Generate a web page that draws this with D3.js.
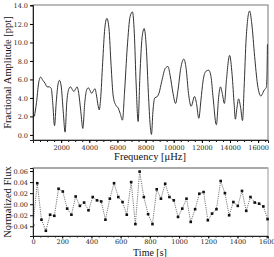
<!DOCTYPE html>
<html>
<head>
<meta charset="utf-8">
<script src="https://cdn.jsdelivr.net/npm/d3@7"></script>
<style>
  body { margin: 0; background: #fff; }
  .tick text { font-family: "DejaVu Serif", serif; font-size: 6.5px; fill: #222; }
  .title { font-family: "Liberation Serif", "Times New Roman", serif; font-size: 10.5px; fill: #111; }
</style>
</head>
<body>
<div id="chart"></div>
<script>
// amplitude spectrum
const specFreq = [100, 250, 400, 540, 700, 850, 1000, 1150, 1300, 1400, 1530, 1650, 1780, 1880, 2000, 2150, 2280, 2400, 2530, 2660,
  2800, 2900, 3020, 3130, 3250, 3400, 3540, 3680, 3800, 3930, 4050, 4170, 4300, 4400, 4520, 4620, 4710, 4800, 4950, 5100,
  5250, 5400, 5550, 5700, 5890, 6060, 6200, 6360, 6500, 6700, 6900, 7070, 7200, 7330, 7470, 7600, 7750, 7900, 8050, 8200,
  8330, 8420, 8520, 8650, 8840, 8950, 9150, 9400, 9590, 9750, 9950, 10130, 10300, 10500, 10720, 10880, 11050, 11240, 11480, 11620,
  11780, 11950, 12100, 12300, 12490, 12650, 12800, 13030, 13200, 13320, 13450, 13600, 13750, 13970, 14150, 14300, 14380, 14500, 14610, 14750,
  14890, 15000, 15150, 15390, 15550, 15750, 15950, 16100, 16200, 16350, 16450, 16570, 16620, 16660]
const specAmp = [2.0, 3.5, 5.6, 6.25, 5.9, 5.6, 5.2, 5.2, 5.0, 3.5, 1.0, 3.5, 5.5, 5.9, 5.3, 2.5, 0.3, 3.5, 4.9, 5.2,
  4.9, 4.7, 4.95, 5.2, 4.5, 2.5, 0.7, 3.5, 4.8, 5.1, 4.8, 4.5, 4.8, 5.0, 4.2, 3.2, 2.7, 3.8, 7.8, 11.5,
  12.6, 11.5, 7.5, 4.2, 3.2, 2.9, 2.3, 1.6, 4.5, 9.5, 12.8, 13.3, 11.0, 5.5, 1.45, 6.5, 10.5, 11.5, 9.5, 4.5,
  1.0, 0.05, 2.5, 4.0, 4.16, 4.5, 5.8, 7.2, 7.4, 6.4, 4.5, 3.4, 4.8, 7.2, 8.2, 7.2, 4.5, 3.1, 4.16, 3.4,
  1.8, 4.0, 6.0, 6.9, 7.0, 6.3, 4.0, 1.1, 4.2, 5.2, 4.5, 3.4, 6.0, 8.6, 6.5, 3.2, 1.7, 3.0, 3.9, 3.0,
  1.55, 5.0, 10.5, 13.4, 12.0, 8.5, 5.5, 4.4, 4.2, 4.6, 4.9, 5.1, 6.0, 9.8]
const ampTicks = [0, 2, 4, 6, 8, 10, 12, 14]
const freqTicks = [2000, 4000, 6000, 8000, 10000, 12000, 14000, 16000]

// light curve
const timeSec = [0, 29, 58, 88, 117, 146, 175, 204, 234, 263, 292, 321, 350, 380, 409, 438, 467, 496, 526, 555,
  584, 613, 642, 672, 701, 730, 759, 788, 818, 847, 876, 905, 934, 964, 993, 1022, 1051, 1080, 1110, 1139,
  1168, 1197, 1226, 1256, 1285, 1314, 1343, 1372, 1402, 1431, 1460, 1489, 1518, 1548, 1577, 1606]
const fluxVal = [-0.038, 0.038, -0.028, -0.048, -0.019, -0.021, 0.028, 0.023, -0.008, -0.019, 0.014, -0.003, 0.003, -0.011, 0.013, 0.007, 0.005, -0.028, 0.010, 0.038,
  0.013, 0.004, -0.019, 0.040, -0.036, 0.059, 0.013, -0.018, -0.036, 0.027, 0.010, 0.037, 0.013, 0.007, -0.023, -0.008, 0.010, -0.032, -0.009, 0.019,
  0.022, -0.029, -0.017, -0.009, 0.042, 0.020, -0.020, 0.004, -0.003, 0.024, -0.012, 0.013, 0.003, 0.001, -0.004, -0.027]
const fluxTicks = [-0.04, -0.02, 0, 0.02, 0.04, 0.06]
const timeTicks = [0, 200, 400, 600, 800, 1000, 1200, 1400, 1600]

const W = 274, H = 257
const svg = d3.select('#chart').append('svg')
  .attr('width', W).attr('height', H)

const left = 33, right = 268

// ---- top panel
const top1 = 5, bot1 = 140
const x1 = d3.scaleLinear().domain([0, 16700]).range([left, right])
const y1 = d3.scaleLinear().domain([-0.55, 14.05]).range([bot1, top1])

svg.append('defs').append('clipPath').attr('id', 'c1')
  .append('rect').attr('x', left).attr('y', top1).attr('width', right - left).attr('height', bot1 - top1)

svg.append('rect')
  .attr('x', left).attr('y', top1).attr('width', right - left).attr('height', bot1 - top1)
  .attr('fill', 'none').attr('stroke', '#777').attr('stroke-width', 1)

const spec = specFreq.map((f, i) => [f, specAmp[i]])
svg.append('path')
  .datum(spec)
  .attr('clip-path', 'url(#c1)')
  .attr('fill', 'none')
  .attr('stroke', '#333')
  .attr('stroke-width', 1)
  .attr('d', d3.line().x(d => x1(d[0])).y(d => y1(d[1])).curve(d3.curveMonotoneX))

svg.append('g')
  .attr('transform', `translate(0,${bot1})`)
  .call(d3.axisBottom(x1).tickValues(d3.range(500, 16700, 500)).tickSize(2).tickFormat(''))
  .call(g => g.select('.domain').remove())
svg.append('g')
  .attr('transform', `translate(0,${bot1})`)
  .call(d3.axisBottom(x1).tickValues(freqTicks).tickSize(3).tickPadding(2).tickFormat(d3.format('d')))
  .call(g => g.select('.domain').attr('stroke', '#222'))
svg.append('g')
  .attr('transform', `translate(${left},0)`)
  .call(d3.axisLeft(y1).tickValues(ampTicks).tickSize(3).tickPadding(2).tickFormat(d3.format('.1f')))
  .call(g => g.select('.domain').attr('stroke', '#222'))

svg.append('text').attr('class', 'title')
  .attr('x', 150).attr('y', 160).attr('text-anchor', 'middle')
  .text('Frequency [μHz]')
svg.append('text').attr('class', 'title')
  .attr('transform', `translate(11,${(top1 + bot1) / 2}) rotate(-90)`)
  .attr('text-anchor', 'middle')
  .text('Fractional Amplitude [ppt]')

// ---- bottom panel
const top2 = 168, bot2 = 236
const x2 = d3.scaleLinear().domain([0, 1609]).range([left, right])
const y2 = d3.scaleLinear().domain([-0.0575, 0.0655]).range([bot2, top2])

svg.append('defs').append('clipPath').attr('id', 'c2')
  .append('rect').attr('x', left).attr('y', top2).attr('width', right - left + 1).attr('height', bot2 - top2)

svg.append('rect')
  .attr('x', left).attr('y', top2).attr('width', right - left).attr('height', bot2 - top2)
  .attr('fill', 'none').attr('stroke', '#999').attr('stroke-width', 1)
svg.append('line')
  .attr('x1', left).attr('x2', right).attr('y1', top2).attr('y2', top2)
  .attr('stroke', '#aaa').attr('stroke-width', 2)

const lc = timeSec.map((t, i) => [t, fluxVal[i]])
const g2 = svg.append('g').attr('clip-path', 'url(#c2)')
g2.append('path')
  .datum(lc)
  .attr('fill', 'none')
  .attr('stroke', '#555')
  .attr('stroke-width', 0.8)
  .attr('stroke-dasharray', '1.2,1')
  .attr('d', d3.line().x(d => x2(d[0])).y(d => y2(d[1])))
g2.selectAll('rect.pt')
  .data(lc)
  .join('rect')
  .attr('class', 'pt')
  .attr('x', d => x2(d[0]) - 1.3)
  .attr('y', d => y2(d[1]) - 1.3)
  .attr('width', 2.6).attr('height', 2.6)
  .attr('fill', '#111')

svg.append('g')
  .attr('transform', `translate(0,${bot2})`)
  .call(d3.axisBottom(x2).tickValues(d3.range(50, 1609, 50)).tickSize(1.5).tickFormat(''))
  .call(g => g.select('.domain').remove())
svg.append('g')
  .attr('transform', `translate(0,${bot2})`)
  .call(d3.axisBottom(x2).tickValues(timeTicks).tickSize(2.5).tickPadding(1).tickFormat(d3.format('d')))
  .call(g => g.select('.domain').attr('stroke', '#222'))
svg.append('g')
  .attr('transform', `translate(${left},0)`)
  .call(d3.axisLeft(y2).tickValues(fluxTicks).tickSize(3).tickPadding(2).tickFormat(d3.format('.2f')))
  .call(g => g.select('.domain').attr('stroke', '#222'))

svg.append('text').attr('class', 'title')
  .attr('x', 150).attr('y', 255.5).attr('text-anchor', 'middle')
  .style('font-size', '10px')
  .text('Time [s]')
svg.append('text').attr('class', 'title')
  .attr('transform', `translate(11,${(top2 + bot2) / 2}) rotate(-90)`)
  .attr('text-anchor', 'middle')
  .text('Normalized Flux')
</script>
</body>
</html>
